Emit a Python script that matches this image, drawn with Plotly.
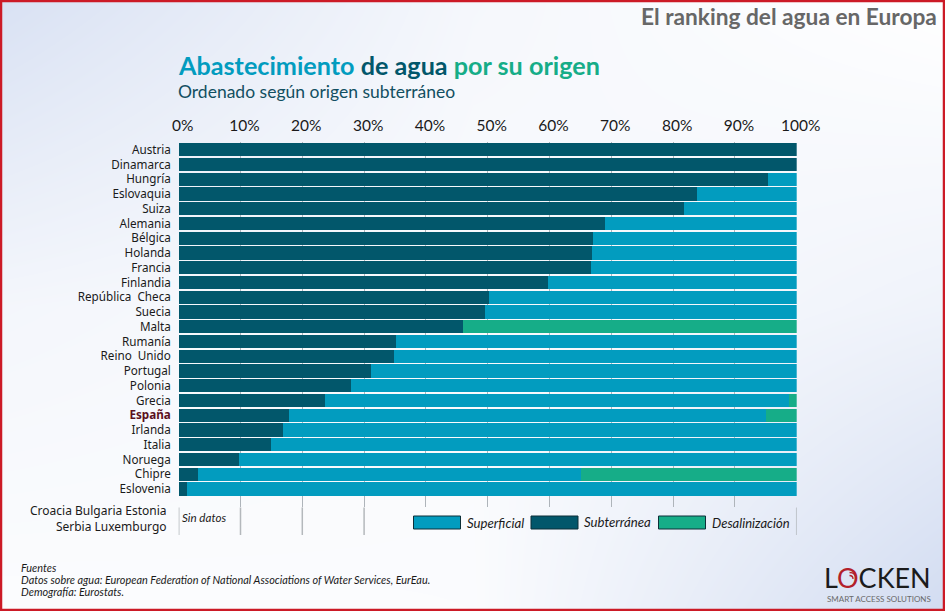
import plotly.graph_objects as go

paises = ["Austria", "Dinamarca", "Hungría", "Eslovaquia", "Suiza", "Alemania", "Bélgica", "Holanda",
          "Francia", "Finlandia", "República  Checa", "Suecia", "Malta", "Rumanía", "Reino  Unido",
          "Portugal", "Polonia", "Grecia", "España", "Irlanda", "Italia", "Noruega", "Chipre", "Eslovenia"]
subterranea = [100, 100, 95.3, 83.9, 81.7, 68.9, 67.1, 66.8, 66.7, 59.8, 50.2, 49.6,
               46.0, 35.1, 34.8, 31.1, 27.8, 23.6, 17.9, 16.9, 15.0, 9.7, 3.2, 1.3]
superficial = [0, 0, 4.7, 16.1, 18.3, 31.1, 32.9, 33.2, 33.3, 40.2, 49.8, 50.4,
               0, 64.9, 65.2, 68.9, 72.2, 75.15, 77.1, 83.1, 85.0, 90.3, 61.9, 98.7]
desalinizacion = [0, 0, 0, 0, 0, 0, 0, 0, 0, 0, 0, 0,
                  54.0, 0, 0, 0, 0, 1.25, 5.0, 0, 0, 0, 34.9, 0]
xticks = [0, 10, 20, 30, 40, 50, 60, 70, 80, 90, 100]
xticklabels = [f"{v}%" for v in xticks]
grid_largo = [0, 10, 20, 30, 100]
sin_datos = "Croacia Bulgaria Estonia<br>Serbia Luxemburgo"

C_SUP, C_SUB, C_DES = "#029cbf", "#02576b", "#16ad88"
W, H = 945, 611
FONT = "Lato"


def px(x):
    return x / W


def py(y):
    return 1 - y / H


fig = go.Figure()

# fondo degradado
fig.add_trace(go.Heatmap(
    x=[0, 0.5, 1], y=[0, 0.5, 1],
    z=[[0.08, 0.10, 1.0], [0.25, 0.12, 0.35], [0.85, 0.22, 0.0]],
    colorscale=[[0, "#ffffff"], [1, "#d2dcf1"]], zmin=0, zmax=1,
    zsmooth="best", showscale=False, hoverinfo="skip", xaxis="x", yaxis="y"))

for name, vals, col in [("Subterránea", subterranea, C_SUB),
                        ("Superficial", superficial, C_SUP),
                        ("Desalinización", desalinizacion, C_DES)]:
    fig.add_trace(go.Bar(y=paises, x=vals, name=name, orientation="h", marker=dict(color=col, line=dict(width=0)),
                         xaxis="x2", yaxis="y2", showlegend=False))

ticktext = [f'<b><span style="color:#5a1020">{p}</span></b>' if p == "España" else p for p in paises]

fig.update_layout(
    width=W, height=H, margin=dict(l=0, r=0, t=0, b=0, pad=0), autosize=False,
    paper_bgcolor="white", plot_bgcolor="rgba(0,0,0,0)", barmode="stack", bargap=0.1,
    font=dict(family=FONT, color="#1a1a1a"),
    xaxis=dict(domain=[0, 1], range=[0, 1], visible=False, fixedrange=True, automargin=False),
    yaxis=dict(domain=[0, 1], range=[0, 1], visible=False, fixedrange=True, automargin=False),
    xaxis2=dict(domain=[px(178.7), px(796.7)], range=[0, 100], side="top", anchor="y2", automargin=False,
                tickmode="array", tickvals=xticks, ticktext=xticklabels, ticklabelshift=4,
                tickfont=dict(size=15.5, family=FONT, color="#1a1a1a"),
                showgrid=True, gridcolor="#aeb4ba", gridwidth=1, zeroline=False, showline=False,
                ticks="outside", ticklen=4, tickcolor="rgba(0,0,0,0)"),
    yaxis2=dict(domain=[py(507.4), py(142.4)], range=[24.25, -0.5], anchor="x2", type="category", automargin=False,
                categoryorder="array", categoryarray=paises,
                tickmode="array", tickvals=paises, ticktext=ticktext,
                tickfont=dict(size=11.7, family="Noto Sans", color="#1a1a1a"),
                showgrid=False, zeroline=False, showline=False,
                ticks="outside", ticklen=4.5, tickcolor="rgba(0,0,0,0)"),
)

shapes = []
# prolongación de la rejilla
for v in grid_largo:
    shapes.append(dict(type="line", xref="x2", yref="paper", x0=v, x1=v, y0=py(507.4), y1=py(535),
                       line=dict(color="#b4b8bc", width=1.5)))
# leyenda
for x0, col in [(413.5, C_SUP), (531, C_SUB), (658.5, C_DES)]:
    shapes.append(dict(type="rect", xref="paper", yref="paper", x0=px(x0), x1=px(x0 + 47), y0=py(529), y1=py(516),
                       fillcolor=col, line=dict(color="#0d2f38", width=1)))
# ondas del logotipo
for x_a, y_a, x_b, y_b in [(849.5, 572.5, 856, 579), (849.5, 575.5, 853, 579)]:
    shapes.append(dict(type="path", xref="paper", yref="paper",
                       path=f"M {px(x_a)} {py(y_a)} Q {px(x_b)} {py(y_a)} {px(x_b)} {py(y_b)}",
                       line=dict(color="#b3202a", width=1.3)))
# marco
shapes.append(dict(type="rect", xref="paper", yref="paper", x0=px(1), x1=px(W - 1), y0=py(H - 1), y1=py(1),
                   line=dict(color="#cc1a26", width=2.5), fillcolor="rgba(0,0,0,0)"))
fig.update_layout(shapes=shapes)


def note(x, y, text, size, color="#1a1a1a", anchor="left", family=FONT, align=None):
    fig.add_annotation(xref="paper", yref="paper", x=px(x), y=py(y), text=text, showarrow=False,
                       xanchor=anchor, yanchor="middle", align=align or anchor,
                       font=dict(size=size, color=color, family=family), borderpad=0, borderwidth=0)


note(937, 16, "<b>El ranking del agua en Europa</b>", 22.7, "#676767", "right")
note(178, 65.5, f'<b><span style="color:{C_SUP}">Abastecimiento</span> <span style="color:{C_SUB}">de agua</span> '
                f'<span style="color:{C_DES}">por su origen</span></b>', 25.2)
note(178, 92, "Ordenado según origen subterráneo", 17.5, "#124f61")
note(167, 518.5, sin_datos, 12, "#1a1a1a", "right", "Noto Sans")
note(182, 517, "<i>Sin datos</i>", 11.6)
note(467, 523, "<i>Superficial</i>", 13.2)
note(584, 522, "<i>Subterránea</i>", 13.2)
note(712, 523, "<i>Desalinización</i>", 13)
note(21, 567, "<i>Fuentes</i>", 10.9)
note(21, 579, "<i>Datos sobre agua: European Federation of National Associations of Water Services, EurEau.</i>", 10.9)
note(21, 591, "<i>Demografía: Eurostats.</i>", 10.9)
note(824, 577.5, '<span>L<span style="color:#b3202a">O</span>CKEN</span>', 27, "#1b1b1b")
note(827, 598.5, "SMART ACCESS SOLUTIONS", 8, "#6a6a6a")

fig.write_html("out.html", config=dict(displayModeBar=False),
               post_script="document.body.style.margin='0';document.documentElement.style.overflow='hidden';")
